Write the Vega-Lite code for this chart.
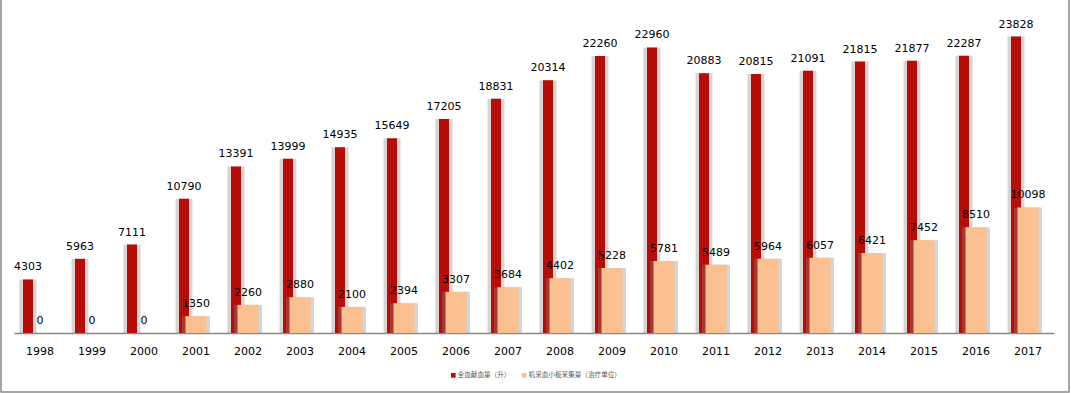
{
  "$schema": "https://vega.github.io/schema/vega-lite/v6.json",
  "autosize": {"type": "none"},
  "padding": {"left": 1, "top": -2, "right": 2, "bottom": 1},
  "width": 1068,
  "height": 394,
  "background": "white",
  "config": {
    "view": {"stroke": "#8a8a8a", "strokeWidth": 1.5},
    "font": "DejaVu Sans"
  },
  "data": {
    "values": [
      {"year": "1998", "series": "全血献血量（升）", "value": 4303},
      {"year": "1999", "series": "全血献血量（升）", "value": 5963},
      {"year": "2000", "series": "全血献血量（升）", "value": 7111},
      {"year": "2001", "series": "全血献血量（升）", "value": 10790},
      {"year": "2002", "series": "全血献血量（升）", "value": 13391},
      {"year": "2003", "series": "全血献血量（升）", "value": 13999},
      {"year": "2004", "series": "全血献血量（升）", "value": 14935},
      {"year": "2005", "series": "全血献血量（升）", "value": 15649},
      {"year": "2006", "series": "全血献血量（升）", "value": 17205},
      {"year": "2007", "series": "全血献血量（升）", "value": 18831},
      {"year": "2008", "series": "全血献血量（升）", "value": 20314},
      {"year": "2009", "series": "全血献血量（升）", "value": 22260},
      {"year": "2010", "series": "全血献血量（升）", "value": 22960},
      {"year": "2011", "series": "全血献血量（升）", "value": 20883},
      {"year": "2012", "series": "全血献血量（升）", "value": 20815},
      {"year": "2013", "series": "全血献血量（升）", "value": 21091},
      {"year": "2014", "series": "全血献血量（升）", "value": 21815},
      {"year": "2015", "series": "全血献血量（升）", "value": 21877},
      {"year": "2016", "series": "全血献血量（升）", "value": 22287},
      {"year": "2017", "series": "全血献血量（升）", "value": 23828},
      {"year": "1998", "series": "机采血小板采集量（治疗单位）", "value": 0},
      {"year": "1999", "series": "机采血小板采集量（治疗单位）", "value": 0},
      {"year": "2000", "series": "机采血小板采集量（治疗单位）", "value": 0},
      {"year": "2001", "series": "机采血小板采集量（治疗单位）", "value": 1350},
      {"year": "2002", "series": "机采血小板采集量（治疗单位）", "value": 2260},
      {"year": "2003", "series": "机采血小板采集量（治疗单位）", "value": 2880},
      {"year": "2004", "series": "机采血小板采集量（治疗单位）", "value": 2100},
      {"year": "2005", "series": "机采血小板采集量（治疗单位）", "value": 2394},
      {"year": "2006", "series": "机采血小板采集量（治疗单位）", "value": 3307},
      {"year": "2007", "series": "机采血小板采集量（治疗单位）", "value": 3684},
      {"year": "2008", "series": "机采血小板采集量（治疗单位）", "value": 4402},
      {"year": "2009", "series": "机采血小板采集量（治疗单位）", "value": 5228},
      {"year": "2010", "series": "机采血小板采集量（治疗单位）", "value": 5781},
      {"year": "2011", "series": "机采血小板采集量（治疗单位）", "value": 5489},
      {"year": "2012", "series": "机采血小板采集量（治疗单位）", "value": 5964},
      {"year": "2013", "series": "机采血小板采集量（治疗单位）", "value": 6057},
      {"year": "2014", "series": "机采血小板采集量（治疗单位）", "value": 6421},
      {"year": "2015", "series": "机采血小板采集量（治疗单位）", "value": 7452},
      {"year": "2016", "series": "机采血小板采集量（治疗单位）", "value": 8510},
      {"year": "2017", "series": "机采血小板采集量（治疗单位）", "value": 10098}
    ]
  },
  "encoding": {
    "x": {
      "field": "year", "type": "nominal", "sort": null,
      "scale": {"range": [13, 1053], "paddingInner": 0, "paddingOuter": 0},
      "axis": {
        "title": null, "offset": -59, "labelAngle": 0, "ticks": false,
        "domainColor": "#8a8a8a", "domainWidth": 1.5,
        "labelFontSize": 11, "labelColor": "#000", "labelPadding": 12,
        "labelFont": "DejaVu Sans"
      }
    },
    "y": {
      "field": "value", "type": "quantitative",
      "scale": {"domain": [0, 25000], "range": [335, 24], "nice": false, "zero": true},
      "axis": null
    }
  },
  "layer": [
    {
      "transform": [{"filter": {"field": "series", "equal": "全血献血量（升）"}}],
      "mark": {"type": "bar", "width": 17, "xOffset": -12, "color": "#888", "opacity": 0.35}
    },
    {
      "transform": [{"filter": {"field": "series", "equal": "全血献血量（升）"}}],
      "mark": {"type": "bar", "width": 10, "xOffset": -12},
      "encoding": {
        "color": {
          "field": "series", "type": "nominal",
          "scale": {"domain": ["全血献血量（升）", "机采血小板采集量（治疗单位）"], "range": ["#B80C06", "#FAC090"]},
          "legend": {
            "title": null, "orient": "none", "legendX": 449, "legendY": 374, "direction": "horizontal",
            "symbolType": "square", "symbolSize": 22, "symbolStrokeWidth": 0,
            "labelFontSize": 6.6, "labelFont": "Noto Sans CJK SC", "labelColor": "#555",
            "labelOffset": 1, "columnPadding": 10
          }
        }
      }
    },
    {
      "transform": [{"filter": {"field": "series", "equal": "机采血小板采集量（治疗单位）"}}],
      "mark": {"type": "bar", "width": 28, "xOffset": 0, "color": "#888", "opacity": 0.35}
    },
    {
      "transform": [{"filter": {"field": "series", "equal": "机采血小板采集量（治疗单位）"}}],
      "mark": {"type": "bar", "width": 21, "xOffset": 0},
      "encoding": {"color": {"field": "series", "type": "nominal"}}
    },
    {
      "transform": [{"filter": {"field": "series", "equal": "全血献血量（升）"}}],
      "mark": {"type": "text", "dx": -12, "dy": -7, "baseline": "bottom", "fontSize": 11, "color": "#000"},
      "encoding": {"text": {"field": "value", "type": "quantitative", "format": "d"}}
    },
    {
      "transform": [{"filter": {"field": "series", "equal": "机采血小板采集量（治疗单位）"}}],
      "mark": {"type": "text", "dx": 0, "dy": -7, "baseline": "bottom", "fontSize": 11, "color": "#000"},
      "encoding": {"text": {"field": "value", "type": "quantitative", "format": "d"}}
    }
  ]
}
